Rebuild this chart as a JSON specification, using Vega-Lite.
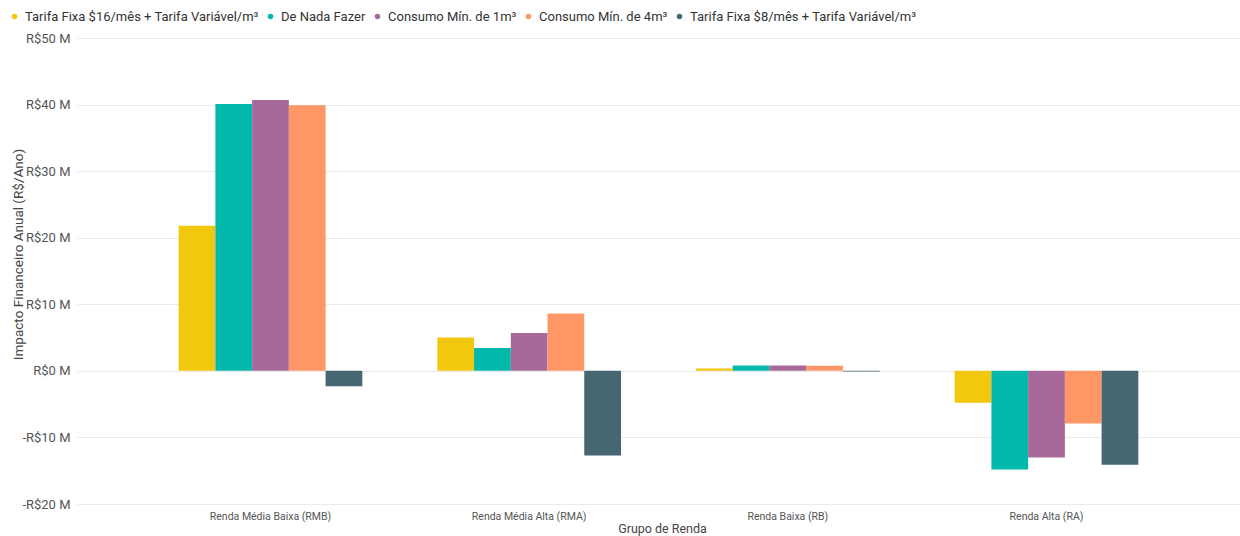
{
  "$schema": "https://vega.github.io/schema/vega-lite/v6.json",
  "width": 1163,
  "height": 466,
  "autosize": "none",
  "padding": {"left": 77, "top": 38, "right": 0, "bottom": 32},
  "background": "white",
  "config": {
    "view": {"stroke": null},
    "font": "Roboto"
  },
  "data": {
    "values": [
      {"grupo": "Renda Média Baixa (RMB)", "cenario": "Tarifa Fixa $16/mês + Tarifa Variável/m³", "valor": 21.8},
      {"grupo": "Renda Média Baixa (RMB)", "cenario": "De Nada Fazer", "valor": 40.1},
      {"grupo": "Renda Média Baixa (RMB)", "cenario": "Consumo Mín. de 1m³", "valor": 40.7},
      {"grupo": "Renda Média Baixa (RMB)", "cenario": "Consumo Mín. de 4m³", "valor": 39.9},
      {"grupo": "Renda Média Baixa (RMB)", "cenario": "Tarifa Fixa $8/mês + Tarifa Variável/m³", "valor": -2.3},
      {"grupo": "Renda Média Alta (RMA)", "cenario": "Tarifa Fixa $16/mês + Tarifa Variável/m³", "valor": 5.0},
      {"grupo": "Renda Média Alta (RMA)", "cenario": "De Nada Fazer", "valor": 3.45},
      {"grupo": "Renda Média Alta (RMA)", "cenario": "Consumo Mín. de 1m³", "valor": 5.7},
      {"grupo": "Renda Média Alta (RMA)", "cenario": "Consumo Mín. de 4m³", "valor": 8.6},
      {"grupo": "Renda Média Alta (RMA)", "cenario": "Tarifa Fixa $8/mês + Tarifa Variável/m³", "valor": -12.7},
      {"grupo": "Renda Baixa (RB)", "cenario": "Tarifa Fixa $16/mês + Tarifa Variável/m³", "valor": 0.35},
      {"grupo": "Renda Baixa (RB)", "cenario": "De Nada Fazer", "valor": 0.8},
      {"grupo": "Renda Baixa (RB)", "cenario": "Consumo Mín. de 1m³", "valor": 0.8},
      {"grupo": "Renda Baixa (RB)", "cenario": "Consumo Mín. de 4m³", "valor": 0.75},
      {"grupo": "Renda Baixa (RB)", "cenario": "Tarifa Fixa $8/mês + Tarifa Variável/m³", "valor": -0.1},
      {"grupo": "Renda Alta (RA)", "cenario": "Tarifa Fixa $16/mês + Tarifa Variável/m³", "valor": -4.8},
      {"grupo": "Renda Alta (RA)", "cenario": "De Nada Fazer", "valor": -14.8},
      {"grupo": "Renda Alta (RA)", "cenario": "Consumo Mín. de 1m³", "valor": -13.0},
      {"grupo": "Renda Alta (RA)", "cenario": "Consumo Mín. de 4m³", "valor": -7.9},
      {"grupo": "Renda Alta (RA)", "cenario": "Tarifa Fixa $8/mês + Tarifa Variável/m³", "valor": -14.1}
    ]
  },
  "mark": {"type": "bar"},
  "encoding": {
    "x": {
      "field": "grupo",
      "type": "nominal",
      "sort": ["Renda Média Baixa (RMB)", "Renda Média Alta (RMA)", "Renda Baixa (RB)", "Renda Alta (RA)"],
      "scale": {"paddingInner": 0.29, "paddingOuter": 0.393},
      "axis": {
        "title": "Grupo de Renda",
        "labelAngle": 0,
        "ticks": false,
        "domain": false,
        "grid": false,
        "labelPadding": 7,
        "labelFontSize": 10.5,
        "labelColor": "#555555",
        "titleFontSize": 12.5,
        "titleColor": "#444444",
        "titleFontWeight": "normal",
        "titleX": 585,
        "titleY": 28,
        "titleBaseline": "alphabetic"
      }
    },
    "xOffset": {
      "field": "cenario",
      "type": "nominal",
      "sort": ["Tarifa Fixa $16/mês + Tarifa Variável/m³", "De Nada Fazer", "Consumo Mín. de 1m³", "Consumo Mín. de 4m³", "Tarifa Fixa $8/mês + Tarifa Variável/m³"],
      "scale": {"paddingInner": 0, "paddingOuter": 0}
    },
    "y": {
      "field": "valor",
      "type": "quantitative",
      "scale": {"domain": [-20, 50], "nice": false, "zero": true},
      "axis": {
        "title": "Impacto Financeiro Anual (R$/Ano)",
        "values": [-20, -10, 0, 10, 20, 30, 40, 50],
        "labelExpr": "datum.value < 0 ? '-R$' + abs(datum.value) + ' M' : 'R$' + datum.value + ' M'",
        "ticks": false,
        "domain": false,
        "gridColor": "#EBEBEB",
        "gridWidth": 1,
        "labelPadding": 7,
        "labelFontSize": 13,
        "labelColor": "#555555",
        "titleFontSize": 13.5,
        "titleColor": "#444444",
        "titleFontWeight": "normal",
        "titleX": -52,
        "titleY": 216,
        "titleAlign": "center"
      }
    },
    "color": {
      "field": "cenario",
      "type": "nominal",
      "scale": {
        "domain": ["Tarifa Fixa $16/mês + Tarifa Variável/m³", "De Nada Fazer", "Consumo Mín. de 1m³", "Consumo Mín. de 4m³", "Tarifa Fixa $8/mês + Tarifa Variável/m³"],
        "range": ["#F2C80F", "#01B8AA", "#A66999", "#FE9666", "#466672"]
      },
      "legend": {
        "title": null,
        "orient": "none",
        "legendX": -69,
        "legendY": -28,
        "padding": 0,
        "direction": "horizontal",
        "columns": 5,
        "gridAlign": "none",
        "symbolType": "circle",
        "symbolSize": 30,
        "symbolStrokeWidth": 0,
        "labelFontSize": 13,
        "labelLimit": 0,
        "labelColor": "#333333",
        "labelOffset": 4,
        "columnPadding": 5,
        "symbolOffset": 0
      }
    }
  }
}
